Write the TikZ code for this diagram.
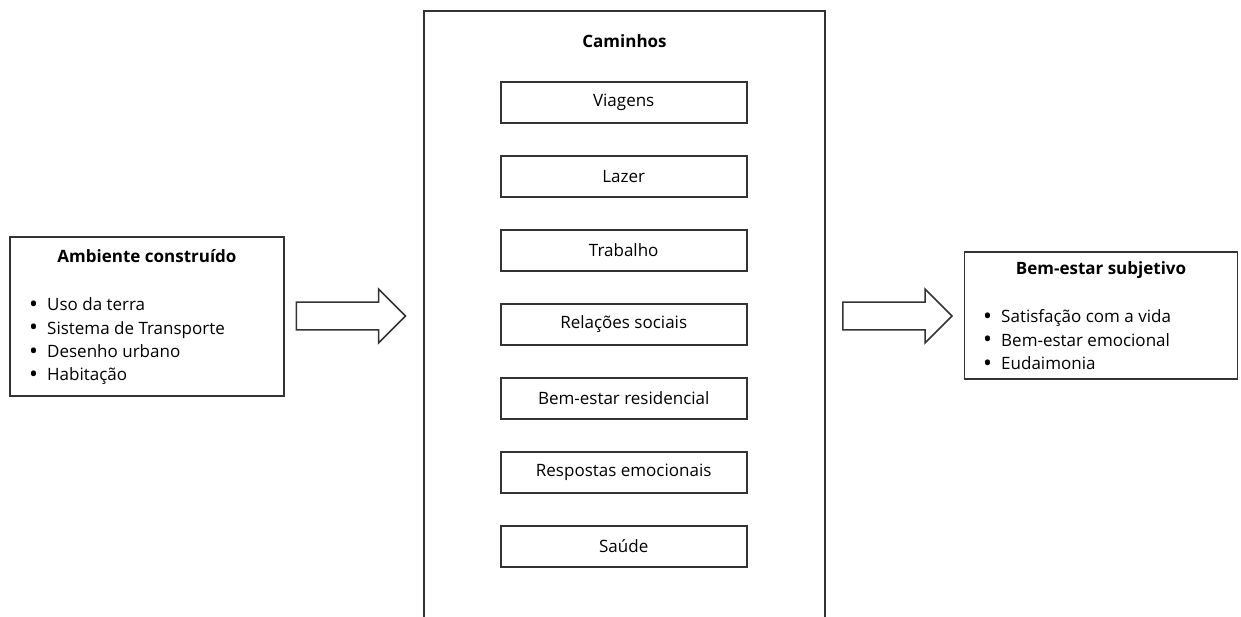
\documentclass[tikz,border=0pt]{standalone}
\usepackage{fontspec}
\setmainfont{Open Sans}
\usepackage{xcolor}
\usepackage{tikz}
\usetikzlibrary{shapes.arrows}
\tikzset{
  frame/.style={rectangle,draw=black!80,line width=1.6pt,inner sep=0pt},
  pathway/.style={rectangle,draw=black!80,line width=1.6pt,minimum width=246pt,minimum height=41pt,font=\fontsize{17}{20}\selectfont},
  title/.style={inner sep=0pt,font=\fontsize{17}{20}\selectfont\bfseries},
  items/.style={align=left,inner sep=0pt,font=\fontsize{17}{23.3}\selectfont},
  bigarrow/.style={single arrow,draw=black!80,line width=1.6pt,minimum height=109pt,single arrow head extend=13pt,inner xsep=0pt,inner ysep=13pt}
}
\newcommand{\itm}[1]{\makebox[18pt][l]{\raisebox{-1.8pt}{\scalebox{1.4}{\textbullet}}}#1}

\begin{document}
\begin{tikzpicture}[x=1pt,y=-1pt,node distance=74pt]
  \useasboundingbox (0,0) rectangle (1241,617);
  \node[frame,minimum width=274pt,minimum height=159pt] (Ambiente) at (147,316.5) {};
  \node[title,anchor=base] (AmbienteTitle) at (147,262.5) {Ambiente construído};
  \node[items,anchor=base west] (AmbienteList) at (29,380.7) {\itm{Uso da terra}\\\itm{Sistema de Transporte}\\\itm{Desenho urbano}\\\itm{Habitação}};
  \node[frame,minimum width=401pt,minimum height=650pt,anchor=north] (Caminhos) at (624.5,10) {};
  \node[title,anchor=base] (CaminhosTitle) at (624.5,47.3) {Caminhos};
  \node[pathway] (Viagens) at (623.7,102.5) {Viagens};
  \node[pathway,below of=Viagens] (Lazer) {Lazer};
  \node[pathway,below of=Lazer] (Trabalho) {Trabalho};
  \node[pathway,below of=Trabalho] (Relacoes) {Relações sociais};
  \node[pathway,below of=Relacoes] (Residencial) {Bem-estar residencial};
  \node[pathway,below of=Residencial] (Respostas) {Respostas emocionais};
  \node[pathway,below of=Respostas] (Saude) {Saúde};
  \node[frame,minimum width=273pt,minimum height=127pt] (BemEstar) at (1101,315.5) {};
  \node[title,anchor=base] (BemEstarTitle) at (1101,274.3) {Bem-estar subjetivo};
  \node[items,anchor=base west] (BemEstarList) at (983,369.3) {\itm{Satisfação com a vida}\\\itm{Bem-estar emocional}\\\itm{Eudaimonia}};
  \node[bigarrow] (ArrowIn) at (344,316) {};
  \node[bigarrow] (ArrowOut) at (890.5,316) {};
\end{tikzpicture}
\end{document}
